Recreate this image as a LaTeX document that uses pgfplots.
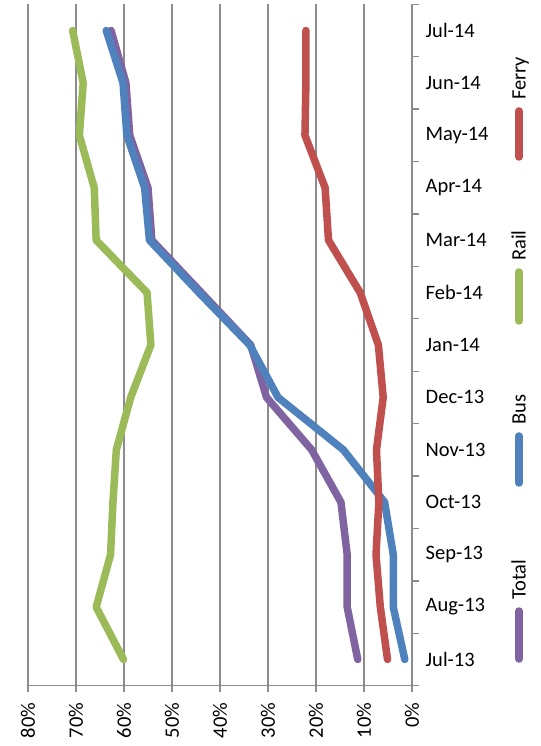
\documentclass[border=0pt]{standalone}
\usepackage{pgfplots}
\usepackage{pgfplotstable}
\pgfplotsset{compat=1.18}
\usepackage{fontspec}
\setmainfont{Carlito}
\definecolor{ferry}{HTML}{C0504D}
\definecolor{rail}{HTML}{9BBB59}
\definecolor{bus}{HTML}{4F81BD}
\definecolor{total}{HTML}{8064A2}
\definecolor{gridgray}{HTML}{8C8C8C}
\pgfplotstableread{
m Ferry Rail Bus Total
0  5.1 60.1  1.5 11.3
1  6.6 65.8  3.9 13.5
2  7.5 62.8  3.9 13.5
3  6.9 62.3  5.7 14.8
4  7.4 61.6 14.3 20.9
5  6.0 58.6 27.9 30.3
6  7.0 54.4 33.8 33.6
7 10.8 55.2 44.4 43.9
8 17.4 65.8 54.7 54.2
9 18.1 66.2 55.7 55.0
10 22.3 69.3 59.4 58.8
11 22.1 68.5 60.2 59.6
12 22.1 70.7 63.7 62.7
}\datatable
\begin{document}
\fontsize{20.5bp}{24bp}\selectfont
\begin{tikzpicture}
\begin{axis}[
  scale only axis, width=384bp, height=681.4bp,
  clip=false,
  x dir=reverse, xmin=0, xmax=80, ymin=-0.5, ymax=12.5,
  /pgf/number format/assume math mode=true,
  xtick={0,10,...,80},
  xticklabel={\pgfmathprintnumber{\tick}\%},
  xticklabel style={rotate=90, anchor=east, inner sep=0pt, xshift=-11bp},
  ytick={0,...,12},
  yticklabels={Jul-13,Aug-13,Sep-13,Oct-13,Nov-13,Dec-13,Jan-14,Feb-14,Mar-14,Apr-14,May-14,Jun-14,Jul-14},
  yticklabel style={anchor=west, inner sep=0pt, xshift=7.5bp},
  minor ytick={-0.5,0.5,...,12.5},
  ytick style={draw=none},
  minor y tick style={draw=gridgray, line width=1.3bp},
  xtick style={draw=gridgray, line width=1.3bp},
  major tick length=6bp, minor tick length=7bp,
  tick align=outside,
  axis x line*=bottom, axis y line*=right,
  axis line style={draw=gridgray, line width=1.3bp, -},
  xmajorgrids, grid style={draw=gridgray, line width=1.3bp},
  every axis plot/.append style={line width=7.5bp, line cap=round, line join=round, mark=none},
]
\addplot[total] table[x=Total, y=m] {\datatable};
\addplot[bus] table[x=Bus, y=m] {\datatable};
\addplot[rail] table[x=Rail, y=m] {\datatable};
\addplot[ferry] table[x=Ferry, y=m] {\datatable};
\begin{scope}[shift={(axis cs:0,-0.5)}]
\path (-412bp,-60.3bp) rectangle (129bp,685.7bp);
\begin{scope}[line width=7.5bp, line cap=round]
\draw[ferry] (107bp,574.7bp) -- (107bp,528.7bp);
\draw[rail] (107bp,413.7bp) -- (107bp,364.7bp);
\draw[bus] (107bp,249.7bp) -- (107bp,202.7bp);
\draw[total] (107bp,74.7bp) -- (107bp,26.7bp);
\end{scope}
\node[rotate=90, anchor=base west, inner sep=0pt] at (113.7bp,585.7bp) {Ferry};
\node[rotate=90, anchor=base west, inner sep=0pt] at (113.7bp,424.7bp) {Rail};
\node[rotate=90, anchor=base west, inner sep=0pt] at (113.7bp,260.7bp) {Bus};
\node[rotate=90, anchor=base west, inner sep=0pt] at (113.7bp,85.7bp) {Total};
\end{scope}
\end{axis}
\end{tikzpicture}
\end{document}
